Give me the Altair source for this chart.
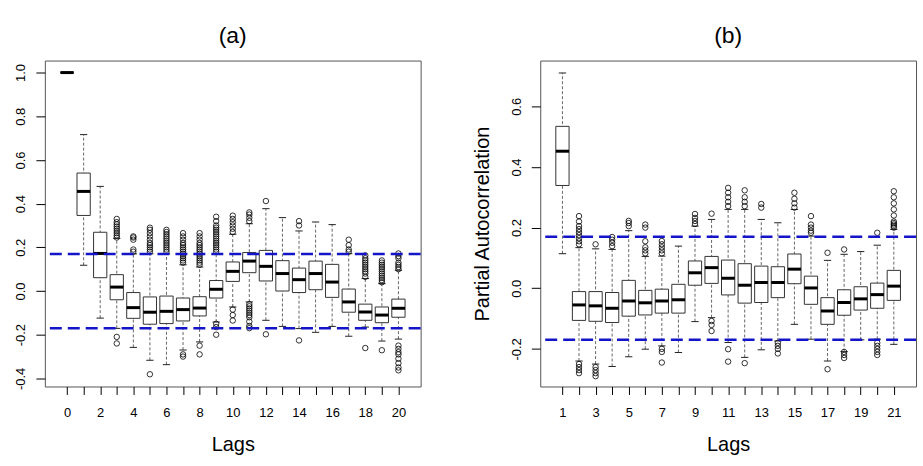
import altair as alt
import pandas as pd

# ---------------- Panel (a): ACF boxplots ----------------
lags_a = list(range(0, 21))
lw_a = [1.0, 0.118, -0.124, -0.171, -0.258, -0.317, -0.337, -0.270, -0.233, -0.142, -0.073,
        -0.050, -0.134, -0.162, -0.172, -0.189, -0.162, -0.207, -0.165, -0.229, -0.220]
q1_a = [1.0, 0.346, 0.061, -0.040, -0.125, -0.152, -0.149, -0.137, -0.114, -0.032, 0.044,
        0.084, 0.046, 0.000, -0.007, 0.006, -0.029, -0.097, -0.134, -0.145, -0.120]
med_a = [1.0, 0.456, 0.172, 0.018, -0.076, -0.097, -0.093, -0.085, -0.078, 0.008, 0.090,
         0.137, 0.113, 0.080, 0.052, 0.080, 0.041, -0.050, -0.096, -0.110, -0.079]
q3_a = [1.0, 0.540, 0.269, 0.075, -0.007, -0.027, -0.023, -0.032, -0.026, 0.048, 0.133,
        0.176, 0.186, 0.139, 0.105, 0.137, 0.122, 0.009, -0.060, -0.073, -0.037]
uw_a = [1.0, 0.716, 0.479, 0.241, 0.170, 0.170, 0.170, 0.120, 0.110, 0.170, 0.260,
        0.308, 0.377, 0.336, 0.275, 0.316, 0.304, 0.171, 0.057, 0.034, 0.095]
out_a = {
    3: [0.245, 0.255, 0.265, 0.275, 0.285, 0.295, 0.305, 0.315, 0.33, -0.21, -0.24],
    4: [0.18, 0.19, 0.235, 0.245, 0.25],
    5: [0.18, 0.19, 0.20, 0.21, 0.22, 0.235, 0.25, 0.265, 0.28, 0.29, -0.381],
    6: [0.18, 0.19, 0.20, 0.21, 0.22, 0.23, 0.24, 0.25, 0.26, 0.27, 0.28],
    7: [0.13, 0.14, 0.15, 0.16, 0.17, 0.18, 0.19, 0.20, 0.21, 0.22, 0.235, 0.25, 0.265, -0.29, -0.30],
    8: [0.12, 0.13, 0.14, 0.15, 0.16, 0.17, 0.18, 0.19, 0.20, 0.21, 0.22, 0.235, 0.25, 0.265, -0.25, -0.29],
    9: [0.18, 0.19, 0.20, 0.21, 0.22, 0.23, 0.24, 0.25, 0.26, 0.27, 0.28, 0.29, 0.30, 0.32, 0.34,
        -0.15, -0.165, -0.20],
    10: [0.27, 0.285, 0.30, 0.315, 0.33, 0.345, -0.085, -0.11, -0.135],
    11: [0.32, 0.335, 0.35, 0.36, -0.06, -0.07, -0.08, -0.09, -0.10, -0.11, -0.12, -0.14, -0.16, -0.17],
    12: [0.412, -0.198],
    14: [0.30, 0.32, -0.226],
    17: [0.18, 0.19, 0.21, 0.235],
    18: [0.065, 0.08, 0.09, 0.10, 0.11, 0.12, 0.13, 0.14, 0.15, 0.163, -0.261],
    19: [0.04, 0.05, 0.06, 0.07, 0.08, 0.09, 0.10, 0.11, 0.12, 0.13, 0.14, -0.271],
    20: [0.10, 0.11, 0.12, 0.13, 0.15, 0.16, 0.172, -0.25, -0.265, -0.28, -0.29, -0.31, -0.33, -0.35, -0.363],
}

# ---------------- Panel (b): PACF boxplots ----------------
lags_b = list(range(1, 22))
lw_b = [0.114, -0.240, -0.250, -0.258, -0.226, -0.201, -0.190, -0.212, -0.110, -0.097, -0.179,
        -0.228, -0.203, -0.174, -0.119, -0.168, -0.240, -0.209, -0.170, -0.168, -0.185]
q1_b = [0.339, -0.106, -0.109, -0.113, -0.092, -0.088, -0.082, -0.082, 0.010, 0.016, -0.022,
        -0.049, -0.047, -0.031, 0.015, -0.053, -0.119, -0.089, -0.072, -0.066, -0.040]
med_b = [0.452, -0.055, -0.058, -0.066, -0.042, -0.048, -0.042, -0.038, 0.051, 0.068, 0.033,
         0.010, 0.019, 0.019, 0.063, 0.001, -0.075, -0.047, -0.035, -0.021, 0.007]
q3_b = [0.534, -0.011, -0.011, -0.014, 0.026, -0.007, -0.003, 0.013, 0.090, 0.105, 0.093,
        0.081, 0.073, 0.071, 0.113, 0.040, -0.031, -0.005, 0.005, 0.017, 0.059]
uw_b = [0.710, 0.134, 0.130, 0.128, 0.190, 0.105, 0.106, 0.139, 0.205, 0.227, 0.260,
        0.260, 0.227, 0.216, 0.260, 0.172, 0.092, 0.112, 0.121, 0.142, 0.194]
out_b = {
    2: [0.145, 0.155, 0.165, 0.175, 0.185, 0.195, 0.205, 0.22, 0.238, -0.25, -0.26, -0.27, -0.28],
    3: [0.145, -0.26, -0.27, -0.28, -0.29],
    4: [0.139, 0.15, 0.16, 0.169],
    5: [0.205, 0.215, 0.222],
    6: [0.115, 0.125, 0.135, 0.155, 0.20, 0.21],
    7: [0.115, 0.125, 0.135, 0.145, 0.156, -0.20, -0.21, -0.245],
    9: [0.212, 0.222, 0.232, 0.245],
    10: [0.246, -0.108, -0.121, -0.141],
    11: [0.271, 0.285, 0.30, 0.315, 0.331, -0.201, -0.242],
    12: [0.271, 0.285, 0.30, 0.323, -0.247],
    13: [0.266, 0.278],
    14: [-0.18, -0.19, -0.20, -0.215],
    15: [0.266, 0.28, 0.295, 0.315],
    16: [0.183, 0.19, 0.20, 0.21, 0.238],
    17: [0.117, -0.267],
    18: [0.128, -0.21, -0.22, -0.23],
    20: [0.183, -0.18, -0.19, -0.20, -0.21, -0.22],
    21: [0.20, 0.205, 0.21, 0.215, 0.22, 0.24, 0.26, 0.28, 0.30, 0.32],
}

conf_lines = [0.17, -0.17]
yticks_a = [-0.4, -0.2, 0.0, 0.2, 0.4, 0.6, 0.8, 1.0]
yticks_b = [-0.2, 0.0, 0.2, 0.4, 0.6]

FONT = "Liberation Sans"
W, H = 377, 327


def panel(lags, lw, q1, med, q3, uw, outl, domx, domy, yticks, parity, title, ytitle):
    box = pd.DataFrame(dict(lag=lags, lw=lw, q1=q1, med=med, q3=q3, uw=uw))
    out = pd.DataFrame([(l, v) for l, vs in outl.items() for v in vs], columns=["lag", "v"])
    hl = pd.DataFrame({"h": conf_lines})

    xs = alt.Scale(domain=domx, nice=False, zero=False)
    ys = alt.Scale(domain=domy, nice=False, zero=False)
    xaxis = alt.Axis(values=lags, labelExpr=f"datum.value % 2 == {parity} ? datum.label : ''",
                     tickSize=8, tickColor="black", labelPadding=12, labelFont=FONT,
                     labelFontSize=13, labelColor="black", labelOverlap=False, labelFlush=False,
                     grid=False, domain=False, titleFont=FONT, titleFontSize=20,
                     titleFontWeight="normal", titleColor="black", titlePadding=15)
    yargs = dict(values=yticks, labelExpr="replace(format(datum.value, '.1f'), '\u2212', '-')",
                 labelAngle=270, labelAlign="center", labelBaseline="bottom",
                 tickSize=9, tickColor="black", labelPadding=8, labelFont=FONT,
                 labelFontSize=13, labelColor="black", labelOverlap=False, labelFlush=False,
                 grid=False, domain=False, titleFont=FONT, titleFontSize=20,
                 titleFontWeight="normal", titleColor="black", titlePadding=18)
    yaxis = alt.Axis(**yargs)

    def X(f):
        return alt.X(f, type="quantitative", scale=xs, axis=xaxis, title="Lags")

    def Y(f):
        if ytitle:
            return alt.Y(f, type="quantitative", scale=ys, axis=yaxis, title=ytitle)
        return alt.Y(f, type="quantitative", scale=ys, axis=yaxis, title=None)

    base = alt.Chart(box).transform_calculate(
        xl="datum.lag - 0.4", xr="datum.lag + 0.4",
        sl="datum.lag - 0.22", sr="datum.lag + 0.22")

    whisk = base.mark_rule(color="#666666", strokeDash=[3, 2], strokeWidth=1).encode(
        x=X("lag"), y=Y("lw"), y2="uw:Q")
    st_lo = base.mark_rule(color="#222222", strokeWidth=1).encode(
        x=X("sl"), x2="sr:Q", y=Y("lw"))
    st_hi = base.mark_rule(color="#222222", strokeWidth=1).encode(
        x=X("sl"), x2="sr:Q", y=Y("uw"))
    rect = base.mark_rect(fill="white", stroke="#333333", strokeWidth=1).encode(
        x=X("xl"), x2="xr:Q", y=Y("q1"), y2="q3:Q")
    medl = base.mark_rule(color="black", strokeWidth=3).encode(
        x=X("xl"), x2="xr:Q", y=Y("med"))
    pts = alt.Chart(out).mark_point(shape="circle", filled=False, size=30, color="black",
                                    strokeWidth=0.8, opacity=1).encode(x=X("lag"), y=Y("v"))
    blue = alt.Chart(hl).mark_rule(color="#1414C8", strokeDash=[12, 6], strokeWidth=2.5).encode(
        y=Y("h"))

    return alt.layer(whisk, st_lo, st_hi, rect, medl, pts, blue).properties(
        width=W, height=H,
        title=alt.TitleParams(title, font=FONT, fontSize=23, fontWeight="normal",
                              color="black", anchor="middle", offset=13))


pa = panel(lags_a, lw_a, q1_a, med_a, q3_a, uw_a, out_a, [-1.34, 21.34], [-0.437, 1.055],
           yticks_a, 0, "(a)", None)
pb = panel(lags_b, lw_b, q1_b, med_b, q3_b, uw_b, out_b, [-0.34, 22.34], [-0.324, 0.751],
           yticks_b, 1, "(b)", "Partial Autocorrelation")

chart = alt.hconcat(pa, pb, spacing=49).properties(
    padding={"left": 14, "top": 23, "right": 5, "bottom": 5},
    background="white",
).configure_view(stroke="#555555", strokeWidth=1)

chart.save("out.html", embed_options={"renderer": "svg", "actions": False})
